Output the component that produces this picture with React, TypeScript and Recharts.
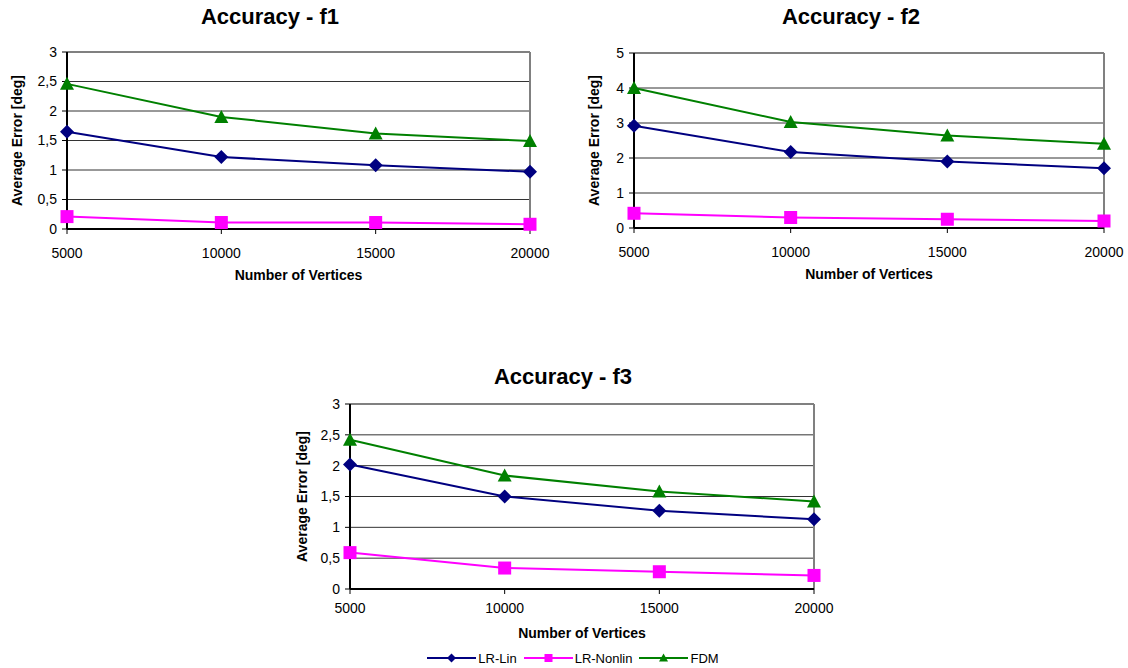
import { LineChart, Line, XAxis, YAxis, CartesianGrid, ReferenceLine, Legend } from 'recharts'

const vertices = [5000, 10000, 15000, 20000]

const f1Lin = [1.65, 1.22, 1.08, 0.97]
const f1Nonlin = [0.21, 0.11, 0.11, 0.08]
const f1Fdm = [2.46, 1.9, 1.62, 1.49]

const f2Lin = [2.92, 2.17, 1.9, 1.71]
const f2Nonlin = [0.42, 0.3, 0.25, 0.2]
const f2Fdm = [4.0, 3.03, 2.64, 2.41]

const f3Lin = [2.02, 1.5, 1.27, 1.13]
const f3Nonlin = [0.59, 0.34, 0.28, 0.22]
const f3Fdm = [2.42, 1.84, 1.58, 1.42]

const ticksHalf = [0, 0.5, 1, 1.5, 2, 2.5, 3]
const ticksOne = [0, 1, 2, 3, 4, 5]

const seriesNames = ['LR-Lin', 'LR-Nonlin', 'FDM']
const seriesColors = ['#000080', '#ff00ff', '#008000']

const FONT = 'Arial, "Liberation Sans", sans-serif'

function toRows(lin: number[], nonlin: number[], fdm: number[]) {
  return vertices.map((n, i) => ({ n, lin: lin[i], nonlin: nonlin[i], fdm: fdm[i] }))
}

// Excel-like markers
function Marker({ kind, cx, cy, r, fill }: { kind: number; cx: number; cy: number; r: number; fill: string }) {
  if (kind === 0) {
    return <path d={`M${cx},${cy - r}L${cx + r},${cy}L${cx},${cy + r}L${cx - r},${cy}Z`} fill={fill} />
  }
  if (kind === 1) {
    return <rect x={cx - r + 0.5} y={cy - r + 0.5} width={2 * r - 1} height={2 * r - 1} fill={fill} />
  }
  return <path d={`M${cx},${cy - r}L${cx + r},${cy + r - 1}L${cx - r},${cy + r - 1}Z`} fill={fill} />
}

function dotFor(kind: number) {
  return (p: any) => (
    <Marker key={`d-${kind}-${p.index}`} kind={kind} cx={p.cx} cy={p.cy} r={7} fill={seriesColors[kind]} />
  )
}

function AccuracyLegend() {
  return (
    <div
      style={{
        display: 'flex',
        justifyContent: 'center',
        alignItems: 'center',
        height: 20,
        paddingLeft: 52,
        fontSize: 13,
        color: '#000',
      }}
    >
      {seriesNames.map((name, i) => (
        <div
          key={name}
          style={{ display: 'flex', alignItems: 'center', marginRight: i < seriesNames.length - 1 ? 7 : 0 }}
        >
          <svg width={49} height={12}>
            <line x1={0} y1={6} x2={49} y2={6} stroke={seriesColors[i]} strokeWidth={2} />
            <Marker kind={i} cx={24.5} cy={6} r={4.5} fill={seriesColors[i]} />
          </svg>
          <span style={{ marginLeft: 2 }}>{name}</span>
        </div>
      ))}
    </div>
  )
}

interface AccuracyChartProps {
  data: ReturnType<typeof toRows>
  yTicks: number[]
  left: number
  top: number
  width: number
  height: number
  margin: { top: number; right: number; bottom: number; left: number }
  yWidth: number
  yLabelOffset: number
  xHeight: number
  xTickMargin: number
  xLabelOffset: number
  legend?: boolean
}

function AccuracyChart(props: AccuracyChartProps) {
  const yMax = props.yTicks[props.yTicks.length - 1]
  return (
    <div style={{ position: 'absolute', left: props.left, top: props.top }}>
      <LineChart width={props.width} height={props.height} data={props.data} margin={props.margin}>
        <CartesianGrid vertical={false} stroke="#333" />
        <ReferenceLine y={yMax} stroke="#808080" strokeWidth={2} />
        <ReferenceLine x={vertices[vertices.length - 1]} stroke="#808080" strokeWidth={2} />
        <XAxis
          dataKey="n"
          scale="point"
          padding={{ left: 0, right: 0 }}
          height={props.xHeight}
          interval={0}
          tick={{ fontSize: 14, fill: '#000' }}
          tickSize={5}
          tickMargin={props.xTickMargin}
          axisLine={{ stroke: '#000', strokeWidth: 2 }}
          tickLine={{ stroke: '#000' }}
          label={{
            value: 'Number of Vertices',
            position: 'insideBottom',
            offset: props.xLabelOffset,
            style: { fontWeight: 'bold', fontSize: 14, fill: '#000' },
          }}
        />
        <YAxis
          domain={[0, yMax]}
          ticks={props.yTicks}
          interval={0}
          width={props.yWidth}
          tickFormatter={(v) => String(v).replace('.', ',')}
          tick={{ fontSize: 14, fill: '#000' }}
          tickSize={5}
          tickMargin={5}
          axisLine={{ stroke: '#000', strokeWidth: 2 }}
          tickLine={{ stroke: '#000' }}
          label={{
            value: 'Average Error [deg]',
            angle: -90,
            position: 'insideLeft',
            offset: props.yLabelOffset,
            style: { textAnchor: 'middle', fontWeight: 'bold', fontSize: 14, fill: '#000' },
          }}
        />
        {props.legend && <Legend verticalAlign="bottom" height={20} content={<AccuracyLegend />} />}
        <Line dataKey="lin" name={seriesNames[0]} stroke={seriesColors[0]} strokeWidth={2} dot={dotFor(0)} isAnimationActive={false} />
        <Line dataKey="nonlin" name={seriesNames[1]} stroke={seriesColors[1]} strokeWidth={2} dot={dotFor(1)} isAnimationActive={false} />
        <Line dataKey="fdm" name={seriesNames[2]} stroke={seriesColors[2]} strokeWidth={2} dot={dotFor(2)} isAnimationActive={false} />
      </LineChart>
    </div>
  )
}

function Title({ text, cx, cy }: { text: string; cx: number; cy: number }) {
  return (
    <div
      style={{
        position: 'absolute',
        left: cx - 150,
        top: cy - 12,
        width: 300,
        height: 24,
        lineHeight: '24px',
        textAlign: 'center',
        fontSize: 22,
        fontWeight: 'bold',
        color: '#000',
      }}
    >
      {text}
    </div>
  )
}

export default function App() {
  return (
    <div
      style={{
        position: 'absolute',
        left: 0,
        top: 0,
        width: 1128,
        height: 668,
        background: '#fff',
        fontFamily: FONT,
        overflow: 'hidden',
      }}
    >
      <Title text="Accuracy - f1" cx={270} cy={17} />
      <Title text="Accuracy - f2" cx={851} cy={17} />
      <Title text="Accuracy - f3" cx={563} cy={377} />
      <AccuracyChart
        data={toRows(f1Lin, f1Nonlin, f1Fdm)}
        yTicks={ticksHalf}
        left={0}
        top={0}
        width={560}
        height={290}
        margin={{ top: 52, right: 30, bottom: 1, left: 0 }}
        yWidth={67}
        yLabelOffset={17}
        xHeight={60}
        xTickMargin={14}
        xLabelOffset={9}
      />
      <AccuracyChart
        data={toRows(f2Lin, f2Nonlin, f2Fdm)}
        yTicks={ticksOne}
        left={570}
        top={0}
        width={558}
        height={290}
        margin={{ top: 53, right: 24, bottom: 2, left: 0 }}
        yWidth={64}
        yLabelOffset={24}
        xHeight={60}
        xTickMargin={14}
        xLabelOffset={9}
      />
      <AccuracyChart
        data={toRows(f3Lin, f3Nonlin, f3Fdm)}
        yTicks={ticksHalf}
        left={280}
        top={360}
        width={560}
        height={308}
        margin={{ top: 44, right: 26, bottom: 0, left: 0 }}
        yWidth={70}
        yLabelOffset={22}
        xHeight={59}
        xTickMargin={9}
        xLabelOffset={10}
        legend
      />
    </div>
  )
}
